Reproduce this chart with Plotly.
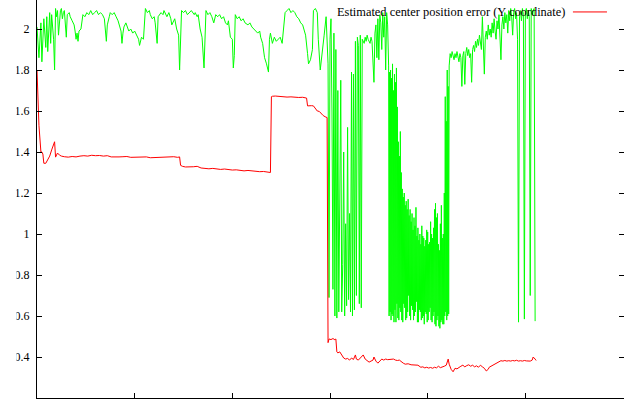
import plotly.graph_objects as go

# ---------------- data (frame index vs error) ----------------
green_frame = [
    0, 2, 4, 5, 7, 9, 10, 11, 13, 14,
    15, 17, 18, 19, 20, 21, 22, 23, 24, 25,
    26, 27, 28, 30, 31, 33, 34, 36, 38, 39,
    40, 41, 42, 43, 45, 47, 49, 51, 53, 55,
    57, 59, 61, 63, 65, 67, 69, 71, 72, 74,
    75, 77, 79, 81, 83, 86, 87, 88, 89, 91,
    93, 94, 96, 98, 100, 102, 104, 105, 107, 109,
    111, 113, 115, 116, 118, 120, 121, 123, 124, 127,
    129, 130, 132, 133, 135, 137, 138, 140, 141, 143,
    145, 146, 148, 150, 152, 154, 156, 158, 161, 162,
    164, 165, 167, 169, 171, 173, 175, 177, 179, 181,
    183, 185, 187, 189, 191, 193, 195, 196, 198, 200,
    201, 202, 203, 205, 207, 209, 211, 213, 216, 218,
    220, 222, 224, 226, 228, 229, 231, 233, 235, 237,
    238, 239, 241, 243, 245, 247, 249, 251, 254, 256,
    258, 260, 262, 264, 266, 268, 270, 272, 274, 275,
    277, 278, 280, 282, 283, 285, 287, 288, 290, 291,
    294, 296, 297,
    298, 299, 300, 301, 302, 303, 304, 305, 306, 307,
    308, 309, 310, 311, 312, 313, 314, 315, 316, 317,
    318, 319, 320, 321, 322, 323, 324, 325, 326, 327,
    328, 329, 330, 331, 332, 333, 335, 336, 337, 338,
    339, 341, 342, 343, 345, 346, 347, 348, 349, 350,
    351, 352, 353, 354, 355, 356, 357, 358, 359,
    360, 360.5, 361, 361.5, 362, 362.5, 363, 363.5, 364, 364.5,
    365, 365.5, 366, 366.5, 367, 367.5, 368, 368.5, 369, 369.5,
    370, 370.5, 371, 371.5, 372, 372.5, 373, 373.5, 374, 374.5,
    375, 375.5, 376, 376.5, 377, 377.5, 378, 378.5, 379, 379.5,
    380, 380.5, 381, 381.5, 382, 382.5, 383, 383.5, 384, 384.5,
    385, 385.5, 386, 386.5, 387, 387.5, 388, 388.5, 389, 389.5,
    390, 390.5, 391, 391.5, 392, 392.5, 393, 393.5, 394, 394.5,
    395, 395.5, 396, 396.5, 397, 397.5, 398, 398.5, 399, 399.5,
    400, 400.5, 401, 401.5, 402, 402.5, 403, 403.5, 404, 404.5,
    405, 405.5, 406, 406.5, 407, 407.5, 408, 408.5, 409, 409.5,
    410, 410.5, 411, 411.5, 412, 412.5, 413, 413.5, 414, 414.5,
    415, 415.5, 416, 416.5, 417, 417.5, 418, 418.5, 419, 419.5,
    420, 420.5, 421, 421.5, 422,
    423, 424, 425, 426, 427, 428, 429, 430, 431, 432,
    433, 434, 435, 436, 437, 438, 439, 440, 441, 442,
    443, 444, 445, 446, 447, 448, 449, 450, 451, 452,
    453, 454, 455, 456, 457, 458, 459, 460, 461, 462,
    463, 464, 465, 466, 467, 468, 469, 470, 471, 472,
    473, 474, 475, 476, 477, 478, 479, 480, 481, 482,
    483, 484, 485, 486, 487, 488, 489, 490,
    491, 492, 493, 494, 495, 496, 497, 498, 499, 500,
    501, 502, 503, 504, 505, 506, 507, 508, 509, 510,
]
green_value = [
    2.01, 1.86, 2.03, 1.84, 2.05, 1.91, 2.06, 1.89, 2.08, 1.93,
    2.07, 1.95, 1.80, 2.10, 2.06, 2.09, 1.97, 2.04, 2.09, 2.10,
    2.05, 2.08, 2.09, 1.96, 2.07, 2.08, 2.06, 2.04, 2.02, 1.99,
    1.95, 1.98, 1.94, 1.99, 2.00, 2.07, 2.06, 2.08, 2.07, 2.09,
    2.07, 2.08, 2.09, 2.07, 2.08, 2.07, 2.05, 1.94, 2.02, 2.06,
    2.08, 2.07, 2.08, 2.06, 2.04, 1.99, 1.93, 1.98, 2.01, 2.03,
    2.00, 1.99, 2.00, 1.98, 1.99, 1.97, 1.95, 1.92, 1.96, 1.95,
    2.10, 2.08, 2.09, 2.07, 2.05, 2.06, 2.03, 1.93, 2.06, 2.08,
    2.07, 2.09, 2.07, 2.06, 2.08, 2.05, 2.02, 2.04, 2.05, 2.00,
    1.97, 1.80, 2.09, 2.08, 2.09, 2.07, 2.08, 2.09, 2.07, 2.08,
    2.06, 2.07, 2.00, 1.96, 1.81, 2.09, 2.07, 2.08, 2.06, 2.03,
    2.07, 2.06, 2.07, 2.05, 2.06, 2.03, 2.02, 2.04, 1.96, 1.95,
    1.81, 1.87, 2.07, 2.05, 2.06, 2.04, 2.05, 2.03, 2.02, 2.03,
    2.01, 2.00, 1.99, 1.98, 1.99, 1.96, 1.93, 1.86, 1.83, 1.79,
    1.95, 1.98, 1.93, 1.96, 1.94, 1.95, 1.96, 1.93, 2.08, 2.09,
    2.10, 2.08, 2.09, 2.08, 2.06, 2.05, 2.03, 2.02, 1.99, 1.97,
    1.88, 1.83, 1.85, 1.90, 2.09, 2.10, 2.08, 1.95, 1.80, 1.85,
    1.97, 2.06, 1.90,
    1.83, 0.69, 1.95, 2.05, 1.60, 0.73, 1.98, 0.60, 1.90, 0.59,
    1.70, 0.62, 1.20, 1.75, 0.62, 0.85, 1.40, 0.60, 1.05, 0.65,
    1.52, 0.68, 1.10, 0.62, 1.79, 0.60, 1.78, 0.63, 1.94, 0.70,
    1.96, 1.92, 0.66, 1.97, 0.64, 1.95, 1.93, 1.96, 1.94, 1.97,
    1.95, 1.93, 1.96, 1.94, 1.74, 1.98, 2.02, 1.86, 2.05, 1.85,
    2.07, 2.03, 1.90, 2.08, 1.96, 2.06, 1.80, 2.08, 2.02,
    1.82, 0.60, 1.79, 0.62, 1.80, 0.58, 1.76, 0.61, 1.83, 0.60,
    1.70, 0.57, 1.78, 0.63, 1.74, 0.57, 1.81, 0.66, 1.62, 0.59,
    1.45, 0.58, 1.38, 0.64, 1.50, 0.62, 1.30, 0.58, 1.22, 0.57,
    1.18, 0.66, 1.20, 0.64, 1.14, 0.58, 1.16, 0.59, 1.12, 0.62,
    1.17, 0.70, 1.09, 0.60, 1.12, 0.58, 1.06, 0.65, 1.10, 0.63,
    1.02, 0.58, 1.08, 0.60, 1.04, 0.62, 1.13, 0.67, 0.99, 0.57,
    1.03, 0.57, 0.97, 0.63, 1.00, 0.62, 0.95, 0.58, 1.04, 0.59,
    0.99, 0.60, 0.98, 0.56, 0.94, 0.62, 0.97, 0.61, 1.02, 0.57,
    1.01, 0.58, 0.95, 0.62, 0.96, 0.64, 1.06, 0.58, 1.00, 0.57,
    0.98, 0.60, 1.03, 0.62, 1.12, 0.56, 1.15, 0.55, 1.08, 0.58,
    1.10, 0.60, 0.95, 0.55, 0.92, 0.54, 1.05, 0.57, 1.14, 0.58,
    0.98, 0.56, 1.00, 0.56, 1.20, 0.60, 1.67, 0.62, 1.55, 0.58,
    1.80, 0.60, 1.72, 0.61, 1.82,
    1.88, 1.86, 1.89, 1.87, 1.85, 1.88, 1.86, 1.89, 1.87, 1.84,
    1.88, 1.86, 1.72, 1.87, 1.89, 1.73, 1.88, 1.91, 1.87, 1.90,
    1.86, 1.88, 1.74, 1.90, 1.92, 1.89, 1.94, 1.91, 1.95, 1.92,
    1.97, 1.93, 1.90, 2.06, 1.94, 1.78, 1.96, 1.99, 1.95, 2.02,
    1.97, 2.00, 1.96, 2.03, 1.98, 2.05, 1.99, 1.95, 2.04, 2.00,
    2.07, 1.98, 1.85, 2.02, 2.06, 2.00, 2.08, 2.03, 2.07, 1.98,
    2.09, 2.04, 2.10, 2.06, 1.97, 2.08, 2.10, 2.05,
    2.08, 1.95, 0.57, 2.06, 2.09, 2.04, 2.10, 2.07, 0.585, 2.08,
    2.10, 2.05, 2.09, 2.06, 0.70, 2.10, 2.07, 2.09, 2.10, 0.575,
]

red_frame = [
    0, 2, 4, 5, 6, 7, 9, 11, 13, 15,
    17, 18, 19, 21, 23, 25, 28, 32, 36, 40,
    44, 48, 52, 56, 60, 64, 68, 72, 76, 80,
    84, 88, 92, 96, 100, 104, 108, 112, 116, 120,
    124, 128, 132, 136, 140, 144, 146, 147, 149, 152,
    156, 160, 164, 168, 172, 176, 180, 184, 188, 192,
    196, 200, 204, 208, 212, 216, 220, 224, 228, 232,
    236, 238, 239, 240, 241, 244, 248, 252, 256, 260,
    264, 268, 272, 274, 276, 277, 279, 281, 283, 285,
    287, 289, 291, 293, 295, 297, 298, 299, 301, 303,
    305, 306, 307, 308, 310, 312, 314, 316, 318, 320,
    322, 324, 326, 327, 329, 331, 332, 334, 336, 338,
    340, 342, 344, 345, 347, 349, 351, 353, 355, 357,
    359, 361, 363, 365, 367, 369, 371, 373, 375, 377,
    380, 383, 386, 390, 393, 395, 397, 399, 401, 403,
    405, 407, 409, 411, 413, 415, 417, 419, 421, 422,
    423, 424, 426, 427, 428, 430, 432, 434, 436, 438,
    440, 442, 444, 446, 448, 450, 452, 454, 456, 458,
    460, 462, 463, 465, 467, 469, 471, 473, 475, 477,
    479, 481, 483, 485, 487, 489, 491, 493, 495, 497,
    499, 501, 503, 505, 507, 508, 510, 511,
]
red_value = [
    1.80, 1.53, 1.40, 1.40, 1.39, 1.345, 1.345, 1.36, 1.38, 1.41,
    1.44, 1.45, 1.375, 1.395, 1.385, 1.38, 1.377, 1.375, 1.378, 1.376,
    1.38, 1.382, 1.38, 1.384, 1.382, 1.383, 1.38, 1.382, 1.376, 1.375,
    1.376, 1.377, 1.378, 1.374, 1.375, 1.373, 1.375, 1.376, 1.372, 1.373,
    1.376, 1.377, 1.375, 1.376, 1.377, 1.374, 1.376, 1.335, 1.33, 1.327,
    1.326, 1.328, 1.33, 1.322, 1.32, 1.318, 1.32, 1.316, 1.315, 1.317,
    1.313, 1.312, 1.313, 1.31, 1.308, 1.31, 1.307, 1.306, 1.304, 1.305,
    1.303, 1.302, 1.30, 1.67, 1.672, 1.673, 1.671, 1.67, 1.668, 1.669,
    1.667, 1.666, 1.667, 1.665, 1.663, 1.625, 1.627, 1.626, 1.625, 1.615,
    1.60, 1.598, 1.585, 1.578, 1.572, 1.568, 0.47, 0.488, 0.485, 0.49,
    0.484, 0.488, 0.425, 0.42, 0.425, 0.41, 0.395, 0.39, 0.393, 0.385,
    0.395, 0.388, 0.41, 0.39, 0.385, 0.395, 0.40, 0.41, 0.39, 0.383,
    0.375, 0.38, 0.385, 0.40, 0.38, 0.37, 0.382, 0.39, 0.385, 0.39,
    0.387, 0.388, 0.386, 0.39, 0.385, 0.383, 0.385, 0.375, 0.37, 0.365,
    0.367, 0.362, 0.36, 0.36, 0.35, 0.352, 0.347, 0.35, 0.346, 0.349,
    0.345, 0.35, 0.347, 0.355, 0.348, 0.35, 0.355, 0.36, 0.39, 0.365,
    0.35, 0.34, 0.328, 0.34, 0.345, 0.342, 0.35, 0.355, 0.36, 0.352,
    0.358, 0.362, 0.355, 0.36, 0.352, 0.357, 0.35, 0.36, 0.352, 0.345,
    0.332, 0.34, 0.35, 0.355, 0.36, 0.368, 0.372, 0.378, 0.382, 0.38,
    0.383, 0.38, 0.382, 0.38, 0.383, 0.381, 0.384, 0.38, 0.382, 0.38,
    0.383, 0.381, 0.382, 0.38, 0.385, 0.40, 0.39, 0.383,
]

red_name = "Estimated center position error (Y coordinate)"
y_ticks = [0.2, 0.4, 0.6, 0.8, 1.0, 1.2, 1.4, 1.6, 1.8, 2.0]
y_tick_labels = ["0.2", "0.4", "0.6", "0.8", "1", "1.2", "1.4", "1.6", "1.8", "2"]
x_ticks = [0, 100, 200, 300, 400, 500, 600]

assert len(green_frame) == len(green_value), (len(green_frame), len(green_value))
assert len(red_frame) == len(red_value), (len(red_frame), len(red_value))

FONT = "Liberation Serif"

fig = go.Figure()
fig.add_trace(go.Scatter(x=green_frame, y=green_value, mode="lines",
                         line=dict(color="#00ff00", width=1), showlegend=False))
fig.add_trace(go.Scatter(x=red_frame, y=red_value, mode="lines", name=red_name,
                         line=dict(color="#ff0000", width=1), showlegend=False))

# gnuplot-style key: text right-aligned, sample line to its right
fig.add_annotation(text=red_name, xref="paper", yref="paper",
                   x=0.903, y=0.970, xanchor="right", yanchor="middle",
                   showarrow=False, font=dict(family=FONT, size=12.4, color="#000000"))
fig.add_shape(type="line", xref="paper", yref="paper",
              x0=0.913, x1=0.971, y0=0.970, y1=0.970,
              line=dict(color="#ff0000", width=1))
# left edge of the original image is cropped
fig.add_shape(type="rect", xref="paper", yref="paper", layer="above",
              x0=-1, x1=-0.0349, y0=-1, y1=2,
              fillcolor="white", line=dict(width=0))

fig.update_layout(
    width=624, height=405,
    margin=dict(l=37, r=0, t=0, b=7, pad=0),
    plot_bgcolor="white", paper_bgcolor="white",
    font=dict(family=FONT, size=12, color="#000000"),
    showlegend=False,
)
fig.update_xaxes(range=[0, 601], tickvals=x_ticks, showticklabels=False,
                 ticks="inside", ticklen=5, tickcolor="black", tickwidth=1,
                 showline=True, linecolor="black", linewidth=1,
                 showgrid=False, zeroline=False, automargin=False)
fig.update_yaxes(range=[0.2, 2.1415], tickvals=y_ticks, ticktext=y_tick_labels,
                 ticks="inside", ticklen=5, tickcolor="black", tickwidth=1,
                 showline=True, linecolor="black", linewidth=1, mirror="ticks",
                 showgrid=False, zeroline=False, automargin=False,
                 tickfont=dict(family=FONT, size=12, color="#000000"),
                 ticklabelstandoff=4)

fig.write_html("out.html", config={"displayModeBar": False},
               post_script="document.body.style.margin='0';document.body.style.overflow='hidden';")
